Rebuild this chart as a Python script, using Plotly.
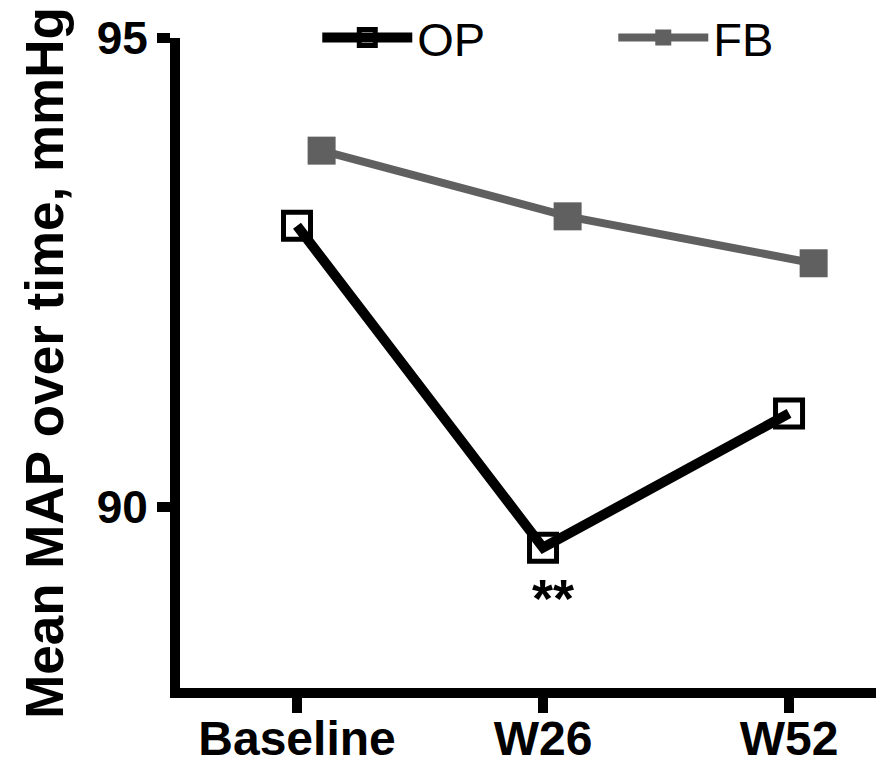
import plotly.graph_objects as go

categories = ["Baseline", "W26", "W52"]
op_values = [93.0, 89.57, 91.0]
fb_values = [93.8, 93.1, 92.6]
y_tick_vals = [90, 95]
y_tick_text = ["90", "95"]
annotation_text = "**"

FONT = "Liberation Sans, Arial, sans-serif"
idx = list(range(len(categories)))
fb_offset = 0.1

fig = go.Figure()
fig.add_trace(go.Scatter(
    x=[i + fb_offset for i in idx], y=fb_values, name="FB", mode="lines+markers",
    line=dict(color="#606060", width=8),
    marker=dict(symbol="square", size=28, color="#606060"),
))
fig.add_trace(go.Scatter(
    x=idx, y=op_values, name="OP", mode="lines+markers",
    line=dict(color="black", width=10),
    marker=dict(symbol="square-open", size=27, color="black", line=dict(width=5)),
))

fig.add_annotation(x=idx[1], y=op_values[1], text=annotation_text, showarrow=False,
                   yshift=-50, xshift=10,
                   font=dict(family=FONT, size=54, color="black", weight="bold"))

fig.update_layout(
    width=876, height=756,
    margin=dict(l=172, r=0, t=30, b=76, autoexpand=False),
    plot_bgcolor="white", paper_bgcolor="white",
    showlegend=True,
    legend=dict(orientation="h", x=0.195, y=1.0, xanchor="left", yanchor="middle",
                traceorder="reversed", itemwidth=90,
                font=dict(family=FONT, size=47, color="black"),
                entrywidth=191, entrywidthmode="pixels",
                bgcolor="rgba(0,0,0,0)"),
    xaxis=dict(range=[-0.4756, 2.386], tickvals=idx, ticktext=categories,
               showgrid=False, zeroline=False, showline=True, linecolor="black", linewidth=10,
               ticks="outside", ticklen=15, tickwidth=10, tickcolor="black",
               automargin=False, ticklabelstandoff=-16,
               tickfont=dict(family=FONT, size=48, color="black", weight="bold")),
    yaxis=dict(range=[88.075, 95], tickvals=y_tick_vals, ticktext=y_tick_text,
               showgrid=False, zeroline=False, showline=True, linecolor="black", linewidth=10,
               ticks="outside", ticklen=13, tickwidth=10, tickcolor="black",
               automargin=False,
               tickfont=dict(family=FONT, size=46, color="black", weight="bold"),
               title=dict(text="Mean MAP over time, mmHg", standoff=20,
                          font=dict(family=FONT, size=53, color="black", weight="bold"))),
)

fig.write_html("out.html")
